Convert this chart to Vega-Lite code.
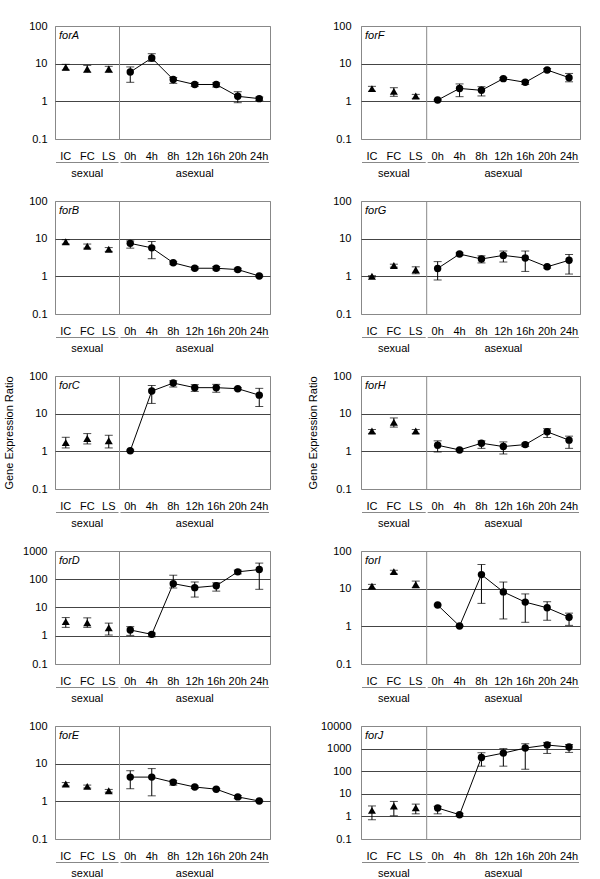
{"$schema":"https://vega.github.io/schema/vega-lite/v6.json",
"padding":{"left":3,"top":19,"right":0,"bottom":0},
"background":"white",
"datasets":{
"g":[{"grp":"sexual","from":"IC","to":"LS","mid":"FC"},{"grp":"asexual","from":"0h","to":"24h","mid":"12h"}],
"d":[
{"gene":"forA","c":"IC","p":"s","v":8.0,"lo":6.8,"hi":9.6},
{"gene":"forA","c":"FC","p":"s","v":7.2,"lo":5.9,"hi":9.0},
{"gene":"forA","c":"LS","p":"s","v":7.2,"lo":5.9,"hi":8.5},
{"gene":"forA","c":"0h","p":"a","v":6.0,"lo":3.2,"hi":8.2},
{"gene":"forA","c":"4h","p":"a","v":14.1,"lo":11.5,"hi":18.4},
{"gene":"forA","c":"8h","p":"a","v":3.8,"lo":3.0,"hi":4.3},
{"gene":"forA","c":"12h","p":"a","v":2.8,"lo":2.5,"hi":3.1},
{"gene":"forA","c":"16h","p":"a","v":2.8,"lo":2.4,"hi":3.1},
{"gene":"forA","c":"20h","p":"a","v":1.36,"lo":0.92,"hi":1.8},
{"gene":"forA","c":"24h","p":"a","v":1.18,"lo":1.06,"hi":1.3},
{"gene":"forB","c":"IC","p":"s","v":8.3,"lo":7.2,"hi":9.4},
{"gene":"forB","c":"FC","p":"s","v":6.3,"lo":5.6,"hi":7.2},
{"gene":"forB","c":"LS","p":"s","v":5.25,"lo":4.6,"hi":5.8},
{"gene":"forB","c":"0h","p":"a","v":7.5,"lo":5.6,"hi":8.7},
{"gene":"forB","c":"4h","p":"a","v":5.7,"lo":2.94,"hi":8.4},
{"gene":"forB","c":"8h","p":"a","v":2.29,"lo":2.1,"hi":2.44},
{"gene":"forB","c":"12h","p":"a","v":1.64,"lo":1.5,"hi":1.79},
{"gene":"forB","c":"16h","p":"a","v":1.64,"lo":1.48,"hi":1.82},
{"gene":"forB","c":"20h","p":"a","v":1.51,"lo":1.39,"hi":1.64},
{"gene":"forB","c":"24h","p":"a","v":1.02,"lo":0.97,"hi":1.07},
{"gene":"forC","c":"IC","p":"s","v":1.7,"lo":1.23,"hi":2.36},
{"gene":"forC","c":"FC","p":"s","v":2.18,"lo":1.57,"hi":2.96},
{"gene":"forC","c":"LS","p":"s","v":1.92,"lo":1.23,"hi":2.67},
{"gene":"forC","c":"0h","p":"a","v":1.04,"lo":1.0,"hi":1.08},
{"gene":"forC","c":"4h","p":"a","v":39.8,"lo":18.7,"hi":56},
{"gene":"forC","c":"8h","p":"a","v":65,"lo":51,"hi":75},
{"gene":"forC","c":"12h","p":"a","v":49,"lo":39,"hi":59},
{"gene":"forC","c":"16h","p":"a","v":49,"lo":37,"hi":60},
{"gene":"forC","c":"20h","p":"a","v":46,"lo":43,"hi":49},
{"gene":"forC","c":"24h","p":"a","v":31,"lo":15.5,"hi":47},
{"gene":"forD","c":"IC","p":"s","v":3.16,"lo":1.98,"hi":4.4},
{"gene":"forD","c":"FC","p":"s","v":2.9,"lo":1.98,"hi":4.3},
{"gene":"forD","c":"LS","p":"s","v":1.93,"lo":1.06,"hi":2.8},
{"gene":"forD","c":"0h","p":"a","v":1.6,"lo":1.03,"hi":2.1},
{"gene":"forD","c":"4h","p":"a","v":1.12,"lo":0.92,"hi":1.25},
{"gene":"forD","c":"8h","p":"a","v":70,"lo":49,"hi":139},
{"gene":"forD","c":"12h","p":"a","v":50.5,"lo":23.4,"hi":80},
{"gene":"forD","c":"16h","p":"a","v":59,"lo":38,"hi":75},
{"gene":"forD","c":"20h","p":"a","v":183,"lo":155,"hi":210},
{"gene":"forD","c":"24h","p":"a","v":220,"lo":44,"hi":373},
{"gene":"forE","c":"IC","p":"s","v":2.9,"lo":2.55,"hi":3.15},
{"gene":"forE","c":"FC","p":"s","v":2.5,"lo":2.25,"hi":2.7},
{"gene":"forE","c":"LS","p":"s","v":1.9,"lo":1.75,"hi":2.07},
{"gene":"forE","c":"0h","p":"a","v":4.4,"lo":2.16,"hi":6.5},
{"gene":"forE","c":"4h","p":"a","v":4.4,"lo":1.4,"hi":7.4},
{"gene":"forE","c":"8h","p":"a","v":3.2,"lo":2.7,"hi":3.6},
{"gene":"forE","c":"12h","p":"a","v":2.4,"lo":2.2,"hi":2.55},
{"gene":"forE","c":"16h","p":"a","v":2.1,"lo":2.0,"hi":2.2},
{"gene":"forE","c":"20h","p":"a","v":1.31,"lo":1.18,"hi":1.43},
{"gene":"forE","c":"24h","p":"a","v":1.02,"lo":0.98,"hi":1.06},
{"gene":"forF","c":"IC","p":"s","v":2.17,"lo":1.85,"hi":2.5},
{"gene":"forF","c":"FC","p":"s","v":1.84,"lo":1.36,"hi":2.3},
{"gene":"forF","c":"LS","p":"s","v":1.39,"lo":1.2,"hi":1.53},
{"gene":"forF","c":"0h","p":"a","v":1.08,"lo":1.04,"hi":1.12},
{"gene":"forF","c":"4h","p":"a","v":2.2,"lo":1.33,"hi":2.9},
{"gene":"forF","c":"8h","p":"a","v":1.96,"lo":1.39,"hi":2.45},
{"gene":"forF","c":"12h","p":"a","v":4.0,"lo":3.8,"hi":4.3},
{"gene":"forF","c":"16h","p":"a","v":3.2,"lo":2.8,"hi":3.5},
{"gene":"forF","c":"20h","p":"a","v":6.8,"lo":6.2,"hi":7.4},
{"gene":"forF","c":"24h","p":"a","v":4.25,"lo":3.3,"hi":5.5},
{"gene":"forG","c":"IC","p":"s","v":1.0,"lo":0.96,"hi":1.04},
{"gene":"forG","c":"FC","p":"s","v":1.94,"lo":1.75,"hi":2.1},
{"gene":"forG","c":"LS","p":"s","v":1.49,"lo":1.17,"hi":1.79},
{"gene":"forG","c":"0h","p":"a","v":1.62,"lo":0.8,"hi":2.46},
{"gene":"forG","c":"4h","p":"a","v":3.9,"lo":3.6,"hi":4.2},
{"gene":"forG","c":"8h","p":"a","v":2.89,"lo":2.27,"hi":3.5},
{"gene":"forG","c":"12h","p":"a","v":3.6,"lo":2.4,"hi":4.7},
{"gene":"forG","c":"16h","p":"a","v":3.07,"lo":1.35,"hi":4.7},
{"gene":"forG","c":"20h","p":"a","v":1.79,"lo":1.65,"hi":1.9},
{"gene":"forG","c":"24h","p":"a","v":2.67,"lo":1.15,"hi":3.8},
{"gene":"forH","c":"IC","p":"s","v":3.45,"lo":3.0,"hi":3.8},
{"gene":"forH","c":"FC","p":"s","v":5.9,"lo":4.4,"hi":7.7},
{"gene":"forH","c":"LS","p":"s","v":3.45,"lo":3.0,"hi":3.8},
{"gene":"forH","c":"0h","p":"a","v":1.45,"lo":0.96,"hi":1.9},
{"gene":"forH","c":"4h","p":"a","v":1.09,"lo":1.04,"hi":1.14},
{"gene":"forH","c":"8h","p":"a","v":1.64,"lo":1.2,"hi":1.9},
{"gene":"forH","c":"12h","p":"a","v":1.34,"lo":0.85,"hi":1.78},
{"gene":"forH","c":"16h","p":"a","v":1.51,"lo":1.34,"hi":1.64},
{"gene":"forH","c":"20h","p":"a","v":3.3,"lo":2.33,"hi":4.0},
{"gene":"forH","c":"24h","p":"a","v":1.98,"lo":1.2,"hi":2.53},
{"gene":"forI","c":"IC","p":"s","v":11.7,"lo":9.8,"hi":13},
{"gene":"forI","c":"FC","p":"s","v":28.3,"lo":24.6,"hi":30.8},
{"gene":"forI","c":"LS","p":"s","v":12.9,"lo":10.5,"hi":15.9},
{"gene":"forI","c":"0h","p":"a","v":3.67,"lo":3.5,"hi":3.85},
{"gene":"forI","c":"4h","p":"a","v":1.02,"lo":0.98,"hi":1.06},
{"gene":"forI","c":"8h","p":"a","v":23.6,"lo":4.07,"hi":43.8},
{"gene":"forI","c":"12h","p":"a","v":8.2,"lo":1.57,"hi":15},
{"gene":"forI","c":"16h","p":"a","v":4.4,"lo":1.28,"hi":7.25},
{"gene":"forI","c":"20h","p":"a","v":3.1,"lo":1.45,"hi":4.5},
{"gene":"forI","c":"24h","p":"a","v":1.75,"lo":1.06,"hi":2.24},
{"gene":"forJ","c":"IC","p":"s","v":1.85,"lo":0.71,"hi":2.9},
{"gene":"forJ","c":"FC","p":"s","v":2.88,"lo":1.07,"hi":4.6},
{"gene":"forJ","c":"LS","p":"s","v":2.43,"lo":1.3,"hi":3.5},
{"gene":"forJ","c":"0h","p":"a","v":2.35,"lo":1.3,"hi":2.78},
{"gene":"forJ","c":"4h","p":"a","v":1.19,"lo":1.07,"hi":1.36},
{"gene":"forJ","c":"8h","p":"a","v":406,"lo":167,"hi":656},
{"gene":"forJ","c":"12h","p":"a","v":631,"lo":167,"hi":1000},
{"gene":"forJ","c":"16h","p":"a","v":1060,"lo":122,"hi":1640},
{"gene":"forJ","c":"20h","p":"a","v":1440,"lo":610,"hi":1870},
{"gene":"forJ","c":"24h","p":"a","v":1170,"lo":680,"hi":1520}
]},
"columns":2,
"spacing":{"row":13.5,"column":91},
"bounds":"flush",
"align":"each",
"concat":[
{"width":215,"height":113,"data":{"name":"d"},"transform":[{"filter":"datum.gene == 'forA'"}],
"encoding":{"x":{"field":"c","type":"nominal","sort":["IC","FC","LS","0h","4h","8h","12h","16h","20h","24h"],"scale":{"type":"band","domain":["IC","FC","LS","0h","4h","8h","12h","16h","20h","24h"],"paddingInner":0,"paddingOuter":0},"axis":{"title":null,"ticks":false,"domain":false,"labelAngle":0,"labelPadding":11,"grid":false}},
"y":{"field":"v","type":"quantitative","title":null,"scale":{"type":"log","domain":[0.1,100]},"axis":{"values":[0.1,1,10,100],"format":"~g","ticks":false,"domain":false,"labelPadding":8,"grid":true,"gridColor":{"condition":{"test":"datum.value <= 0.1 || datum.value >= 100","value":"#888888"},"value":"#444444"},"titlePadding":14}}},
"layer":[
{"transform":[{"filter":"datum.c == 'IC'"}],"mark":{"type":"rule","color":"#888888"},"encoding":{"x":{"datum":"0h","type":"nominal","bandPosition":0,"title":null},"y":{"datum":0.1,"type":"quantitative","title":null},"y2":{"datum":100}}},
{"transform":[{"filter":"datum.c == 'IC'"}],"mark":{"type":"text","align":"left","baseline":"middle","dx":4,"dy":10,"fontStyle":"italic"},"encoding":{"x":{"datum":"IC","type":"nominal","bandPosition":0,"title":null},"y":{"datum":100,"type":"quantitative","title":null},"text":{"field":"gene"}}},
{"mark":{"type":"rule","color":"#000000"},"encoding":{"y":{"field":"lo","type":"quantitative","title":null},"y2":{"field":"hi"}}},
{"mark":{"type":"tick","color":"#000000","size":8,"thickness":1},"encoding":{"y":{"field":"lo","type":"quantitative","title":null}}},
{"mark":{"type":"tick","color":"#000000","size":8,"thickness":1},"encoding":{"y":{"field":"hi","type":"quantitative","title":null}}},
{"transform":[{"filter":"datum.p == 'a'"}],"mark":{"type":"line","color":"#000000","strokeWidth":1}},
{"transform":[{"filter":"datum.p == 's'"}],"mark":{"type":"point","shape":"triangle-up","filled":true,"color":"#000000","opacity":1,"size":64}},
{"transform":[{"filter":"datum.p == 'a'"}],"mark":{"type":"point","shape":"circle","filled":true,"color":"#000000","opacity":1,"size":55}}
]},
{"width":219,"height":113,"data":{"name":"d"},"transform":[{"filter":"datum.gene == 'forF'"}],
"encoding":{"x":{"field":"c","type":"nominal","sort":["IC","FC","LS","0h","4h","8h","12h","16h","20h","24h"],"scale":{"type":"band","domain":["IC","FC","LS","0h","4h","8h","12h","16h","20h","24h"],"paddingInner":0,"paddingOuter":0},"axis":{"title":null,"ticks":false,"domain":false,"labelAngle":0,"labelPadding":11,"grid":false}},
"y":{"field":"v","type":"quantitative","title":null,"scale":{"type":"log","domain":[0.1,100]},"axis":{"values":[0.1,1,10,100],"format":"~g","ticks":false,"domain":false,"labelPadding":10,"grid":true,"gridColor":{"condition":{"test":"datum.value <= 0.1 || datum.value >= 100","value":"#888888"},"value":"#444444"},"titlePadding":14}}},
"layer":[
{"transform":[{"filter":"datum.c == 'IC'"}],"mark":{"type":"rule","color":"#888888"},"encoding":{"x":{"datum":"0h","type":"nominal","bandPosition":0,"title":null},"y":{"datum":0.1,"type":"quantitative","title":null},"y2":{"datum":100}}},
{"transform":[{"filter":"datum.c == 'IC'"}],"mark":{"type":"text","align":"left","baseline":"middle","dx":4,"dy":10,"fontStyle":"italic"},"encoding":{"x":{"datum":"IC","type":"nominal","bandPosition":0,"title":null},"y":{"datum":100,"type":"quantitative","title":null},"text":{"field":"gene"}}},
{"mark":{"type":"rule","color":"#000000"},"encoding":{"y":{"field":"lo","type":"quantitative","title":null},"y2":{"field":"hi"}}},
{"mark":{"type":"tick","color":"#000000","size":8,"thickness":1},"encoding":{"y":{"field":"lo","type":"quantitative","title":null}}},
{"mark":{"type":"tick","color":"#000000","size":8,"thickness":1},"encoding":{"y":{"field":"hi","type":"quantitative","title":null}}},
{"transform":[{"filter":"datum.p == 'a'"}],"mark":{"type":"line","color":"#000000","strokeWidth":1}},
{"transform":[{"filter":"datum.p == 's'"}],"mark":{"type":"point","shape":"triangle-up","filled":true,"color":"#000000","opacity":1,"size":64}},
{"transform":[{"filter":"datum.p == 'a'"}],"mark":{"type":"point","shape":"circle","filled":true,"color":"#000000","opacity":1,"size":55}}
]},
{"width":215,"height":34.5,"data":{"name":"g"},"view":{"stroke":null},"layer":[
{"mark":{"type":"rule","color":"#888888","xOffset":1,"x2Offset":-1},"encoding":{"x":{"field":"from","type":"nominal","bandPosition":0,"scale":{"type":"band","domain":["IC","FC","LS","0h","4h","8h","12h","16h","20h","24h"],"paddingInner":0,"paddingOuter":0},"axis":null},"x2":{"field":"to","bandPosition":1},"y":{"datum":"line","type":"nominal","scale":{"type":"point","domain":["line","label"],"padding":1,"align":0.435},"axis":null}}},
{"mark":{"type":"text","baseline":"middle"},"encoding":{"x":{"field":"mid","type":"nominal","axis":null},"y":{"datum":"label","type":"nominal","axis":null},"text":{"field":"grp"}}}]},
{"width":219,"height":34.5,"data":{"name":"g"},"view":{"stroke":null},"layer":[
{"mark":{"type":"rule","color":"#888888","xOffset":1,"x2Offset":-1},"encoding":{"x":{"field":"from","type":"nominal","bandPosition":0,"scale":{"type":"band","domain":["IC","FC","LS","0h","4h","8h","12h","16h","20h","24h"],"paddingInner":0,"paddingOuter":0},"axis":null},"x2":{"field":"to","bandPosition":1},"y":{"datum":"line","type":"nominal","scale":{"type":"point","domain":["line","label"],"padding":1,"align":0.435},"axis":null}}},
{"mark":{"type":"text","baseline":"middle"},"encoding":{"x":{"field":"mid","type":"nominal","axis":null},"y":{"datum":"label","type":"nominal","axis":null},"text":{"field":"grp"}}}]},
{"width":215,"height":113,"data":{"name":"d"},"transform":[{"filter":"datum.gene == 'forB'"}],
"encoding":{"x":{"field":"c","type":"nominal","sort":["IC","FC","LS","0h","4h","8h","12h","16h","20h","24h"],"scale":{"type":"band","domain":["IC","FC","LS","0h","4h","8h","12h","16h","20h","24h"],"paddingInner":0,"paddingOuter":0},"axis":{"title":null,"ticks":false,"domain":false,"labelAngle":0,"labelPadding":11,"grid":false}},
"y":{"field":"v","type":"quantitative","title":null,"scale":{"type":"log","domain":[0.1,100]},"axis":{"values":[0.1,1,10,100],"format":"~g","ticks":false,"domain":false,"labelPadding":8,"grid":true,"gridColor":{"condition":{"test":"datum.value <= 0.1 || datum.value >= 100","value":"#888888"},"value":"#444444"},"titlePadding":14}}},
"layer":[
{"transform":[{"filter":"datum.c == 'IC'"}],"mark":{"type":"rule","color":"#888888"},"encoding":{"x":{"datum":"0h","type":"nominal","bandPosition":0,"title":null},"y":{"datum":0.1,"type":"quantitative","title":null},"y2":{"datum":100}}},
{"transform":[{"filter":"datum.c == 'IC'"}],"mark":{"type":"text","align":"left","baseline":"middle","dx":4,"dy":10,"fontStyle":"italic"},"encoding":{"x":{"datum":"IC","type":"nominal","bandPosition":0,"title":null},"y":{"datum":100,"type":"quantitative","title":null},"text":{"field":"gene"}}},
{"mark":{"type":"rule","color":"#000000"},"encoding":{"y":{"field":"lo","type":"quantitative","title":null},"y2":{"field":"hi"}}},
{"mark":{"type":"tick","color":"#000000","size":8,"thickness":1},"encoding":{"y":{"field":"lo","type":"quantitative","title":null}}},
{"mark":{"type":"tick","color":"#000000","size":8,"thickness":1},"encoding":{"y":{"field":"hi","type":"quantitative","title":null}}},
{"transform":[{"filter":"datum.p == 'a'"}],"mark":{"type":"line","color":"#000000","strokeWidth":1}},
{"transform":[{"filter":"datum.p == 's'"}],"mark":{"type":"point","shape":"triangle-up","filled":true,"color":"#000000","opacity":1,"size":64}},
{"transform":[{"filter":"datum.p == 'a'"}],"mark":{"type":"point","shape":"circle","filled":true,"color":"#000000","opacity":1,"size":55}}
]},
{"width":219,"height":113,"data":{"name":"d"},"transform":[{"filter":"datum.gene == 'forG'"}],
"encoding":{"x":{"field":"c","type":"nominal","sort":["IC","FC","LS","0h","4h","8h","12h","16h","20h","24h"],"scale":{"type":"band","domain":["IC","FC","LS","0h","4h","8h","12h","16h","20h","24h"],"paddingInner":0,"paddingOuter":0},"axis":{"title":null,"ticks":false,"domain":false,"labelAngle":0,"labelPadding":11,"grid":false}},
"y":{"field":"v","type":"quantitative","title":null,"scale":{"type":"log","domain":[0.1,100]},"axis":{"values":[0.1,1,10,100],"format":"~g","ticks":false,"domain":false,"labelPadding":10,"grid":true,"gridColor":{"condition":{"test":"datum.value <= 0.1 || datum.value >= 100","value":"#888888"},"value":"#444444"},"titlePadding":14}}},
"layer":[
{"transform":[{"filter":"datum.c == 'IC'"}],"mark":{"type":"rule","color":"#888888"},"encoding":{"x":{"datum":"0h","type":"nominal","bandPosition":0,"title":null},"y":{"datum":0.1,"type":"quantitative","title":null},"y2":{"datum":100}}},
{"transform":[{"filter":"datum.c == 'IC'"}],"mark":{"type":"text","align":"left","baseline":"middle","dx":4,"dy":10,"fontStyle":"italic"},"encoding":{"x":{"datum":"IC","type":"nominal","bandPosition":0,"title":null},"y":{"datum":100,"type":"quantitative","title":null},"text":{"field":"gene"}}},
{"mark":{"type":"rule","color":"#000000"},"encoding":{"y":{"field":"lo","type":"quantitative","title":null},"y2":{"field":"hi"}}},
{"mark":{"type":"tick","color":"#000000","size":8,"thickness":1},"encoding":{"y":{"field":"lo","type":"quantitative","title":null}}},
{"mark":{"type":"tick","color":"#000000","size":8,"thickness":1},"encoding":{"y":{"field":"hi","type":"quantitative","title":null}}},
{"transform":[{"filter":"datum.p == 'a'"}],"mark":{"type":"line","color":"#000000","strokeWidth":1}},
{"transform":[{"filter":"datum.p == 's'"}],"mark":{"type":"point","shape":"triangle-up","filled":true,"color":"#000000","opacity":1,"size":64}},
{"transform":[{"filter":"datum.p == 'a'"}],"mark":{"type":"point","shape":"circle","filled":true,"color":"#000000","opacity":1,"size":55}}
]},
{"width":215,"height":34.5,"data":{"name":"g"},"view":{"stroke":null},"layer":[
{"mark":{"type":"rule","color":"#888888","xOffset":1,"x2Offset":-1},"encoding":{"x":{"field":"from","type":"nominal","bandPosition":0,"scale":{"type":"band","domain":["IC","FC","LS","0h","4h","8h","12h","16h","20h","24h"],"paddingInner":0,"paddingOuter":0},"axis":null},"x2":{"field":"to","bandPosition":1},"y":{"datum":"line","type":"nominal","scale":{"type":"point","domain":["line","label"],"padding":1,"align":0.435},"axis":null}}},
{"mark":{"type":"text","baseline":"middle"},"encoding":{"x":{"field":"mid","type":"nominal","axis":null},"y":{"datum":"label","type":"nominal","axis":null},"text":{"field":"grp"}}}]},
{"width":219,"height":34.5,"data":{"name":"g"},"view":{"stroke":null},"layer":[
{"mark":{"type":"rule","color":"#888888","xOffset":1,"x2Offset":-1},"encoding":{"x":{"field":"from","type":"nominal","bandPosition":0,"scale":{"type":"band","domain":["IC","FC","LS","0h","4h","8h","12h","16h","20h","24h"],"paddingInner":0,"paddingOuter":0},"axis":null},"x2":{"field":"to","bandPosition":1},"y":{"datum":"line","type":"nominal","scale":{"type":"point","domain":["line","label"],"padding":1,"align":0.435},"axis":null}}},
{"mark":{"type":"text","baseline":"middle"},"encoding":{"x":{"field":"mid","type":"nominal","axis":null},"y":{"datum":"label","type":"nominal","axis":null},"text":{"field":"grp"}}}]},
{"width":215,"height":113,"data":{"name":"d"},"transform":[{"filter":"datum.gene == 'forC'"}],
"encoding":{"x":{"field":"c","type":"nominal","sort":["IC","FC","LS","0h","4h","8h","12h","16h","20h","24h"],"scale":{"type":"band","domain":["IC","FC","LS","0h","4h","8h","12h","16h","20h","24h"],"paddingInner":0,"paddingOuter":0},"axis":{"title":null,"ticks":false,"domain":false,"labelAngle":0,"labelPadding":11,"grid":false}},
"y":{"field":"v","type":"quantitative","title":"Gene Expression Ratio","scale":{"type":"log","domain":[0.1,100]},"axis":{"values":[0.1,1,10,100],"format":"~g","ticks":false,"domain":false,"labelPadding":8,"grid":true,"gridColor":{"condition":{"test":"datum.value <= 0.1 || datum.value >= 100","value":"#888888"},"value":"#444444"},"titlePadding":14}}},
"layer":[
{"transform":[{"filter":"datum.c == 'IC'"}],"mark":{"type":"rule","color":"#888888"},"encoding":{"x":{"datum":"0h","type":"nominal","bandPosition":0,"title":null},"y":{"datum":0.1,"type":"quantitative","title":"Gene Expression Ratio"},"y2":{"datum":100}}},
{"transform":[{"filter":"datum.c == 'IC'"}],"mark":{"type":"text","align":"left","baseline":"middle","dx":4,"dy":10,"fontStyle":"italic"},"encoding":{"x":{"datum":"IC","type":"nominal","bandPosition":0,"title":null},"y":{"datum":100,"type":"quantitative","title":"Gene Expression Ratio"},"text":{"field":"gene"}}},
{"mark":{"type":"rule","color":"#000000"},"encoding":{"y":{"field":"lo","type":"quantitative","title":"Gene Expression Ratio"},"y2":{"field":"hi"}}},
{"mark":{"type":"tick","color":"#000000","size":8,"thickness":1},"encoding":{"y":{"field":"lo","type":"quantitative","title":"Gene Expression Ratio"}}},
{"mark":{"type":"tick","color":"#000000","size":8,"thickness":1},"encoding":{"y":{"field":"hi","type":"quantitative","title":"Gene Expression Ratio"}}},
{"transform":[{"filter":"datum.p == 'a'"}],"mark":{"type":"line","color":"#000000","strokeWidth":1}},
{"transform":[{"filter":"datum.p == 's'"}],"mark":{"type":"point","shape":"triangle-up","filled":true,"color":"#000000","opacity":1,"size":64}},
{"transform":[{"filter":"datum.p == 'a'"}],"mark":{"type":"point","shape":"circle","filled":true,"color":"#000000","opacity":1,"size":55}}
]},
{"width":219,"height":113,"data":{"name":"d"},"transform":[{"filter":"datum.gene == 'forH'"}],
"encoding":{"x":{"field":"c","type":"nominal","sort":["IC","FC","LS","0h","4h","8h","12h","16h","20h","24h"],"scale":{"type":"band","domain":["IC","FC","LS","0h","4h","8h","12h","16h","20h","24h"],"paddingInner":0,"paddingOuter":0},"axis":{"title":null,"ticks":false,"domain":false,"labelAngle":0,"labelPadding":11,"grid":false}},
"y":{"field":"v","type":"quantitative","title":"Gene Expression Ratio","scale":{"type":"log","domain":[0.1,100]},"axis":{"values":[0.1,1,10,100],"format":"~g","ticks":false,"domain":false,"labelPadding":10,"grid":true,"gridColor":{"condition":{"test":"datum.value <= 0.1 || datum.value >= 100","value":"#888888"},"value":"#444444"},"titlePadding":14}}},
"layer":[
{"transform":[{"filter":"datum.c == 'IC'"}],"mark":{"type":"rule","color":"#888888"},"encoding":{"x":{"datum":"0h","type":"nominal","bandPosition":0,"title":null},"y":{"datum":0.1,"type":"quantitative","title":"Gene Expression Ratio"},"y2":{"datum":100}}},
{"transform":[{"filter":"datum.c == 'IC'"}],"mark":{"type":"text","align":"left","baseline":"middle","dx":4,"dy":10,"fontStyle":"italic"},"encoding":{"x":{"datum":"IC","type":"nominal","bandPosition":0,"title":null},"y":{"datum":100,"type":"quantitative","title":"Gene Expression Ratio"},"text":{"field":"gene"}}},
{"mark":{"type":"rule","color":"#000000"},"encoding":{"y":{"field":"lo","type":"quantitative","title":"Gene Expression Ratio"},"y2":{"field":"hi"}}},
{"mark":{"type":"tick","color":"#000000","size":8,"thickness":1},"encoding":{"y":{"field":"lo","type":"quantitative","title":"Gene Expression Ratio"}}},
{"mark":{"type":"tick","color":"#000000","size":8,"thickness":1},"encoding":{"y":{"field":"hi","type":"quantitative","title":"Gene Expression Ratio"}}},
{"transform":[{"filter":"datum.p == 'a'"}],"mark":{"type":"line","color":"#000000","strokeWidth":1}},
{"transform":[{"filter":"datum.p == 's'"}],"mark":{"type":"point","shape":"triangle-up","filled":true,"color":"#000000","opacity":1,"size":64}},
{"transform":[{"filter":"datum.p == 'a'"}],"mark":{"type":"point","shape":"circle","filled":true,"color":"#000000","opacity":1,"size":55}}
]},
{"width":215,"height":34.5,"data":{"name":"g"},"view":{"stroke":null},"layer":[
{"mark":{"type":"rule","color":"#888888","xOffset":1,"x2Offset":-1},"encoding":{"x":{"field":"from","type":"nominal","bandPosition":0,"scale":{"type":"band","domain":["IC","FC","LS","0h","4h","8h","12h","16h","20h","24h"],"paddingInner":0,"paddingOuter":0},"axis":null},"x2":{"field":"to","bandPosition":1},"y":{"datum":"line","type":"nominal","scale":{"type":"point","domain":["line","label"],"padding":1,"align":0.435},"axis":null}}},
{"mark":{"type":"text","baseline":"middle"},"encoding":{"x":{"field":"mid","type":"nominal","axis":null},"y":{"datum":"label","type":"nominal","axis":null},"text":{"field":"grp"}}}]},
{"width":219,"height":34.5,"data":{"name":"g"},"view":{"stroke":null},"layer":[
{"mark":{"type":"rule","color":"#888888","xOffset":1,"x2Offset":-1},"encoding":{"x":{"field":"from","type":"nominal","bandPosition":0,"scale":{"type":"band","domain":["IC","FC","LS","0h","4h","8h","12h","16h","20h","24h"],"paddingInner":0,"paddingOuter":0},"axis":null},"x2":{"field":"to","bandPosition":1},"y":{"datum":"line","type":"nominal","scale":{"type":"point","domain":["line","label"],"padding":1,"align":0.435},"axis":null}}},
{"mark":{"type":"text","baseline":"middle"},"encoding":{"x":{"field":"mid","type":"nominal","axis":null},"y":{"datum":"label","type":"nominal","axis":null},"text":{"field":"grp"}}}]},
{"width":215,"height":113,"data":{"name":"d"},"transform":[{"filter":"datum.gene == 'forD'"}],
"encoding":{"x":{"field":"c","type":"nominal","sort":["IC","FC","LS","0h","4h","8h","12h","16h","20h","24h"],"scale":{"type":"band","domain":["IC","FC","LS","0h","4h","8h","12h","16h","20h","24h"],"paddingInner":0,"paddingOuter":0},"axis":{"title":null,"ticks":false,"domain":false,"labelAngle":0,"labelPadding":11,"grid":false}},
"y":{"field":"v","type":"quantitative","title":null,"scale":{"type":"log","domain":[0.1,1000]},"axis":{"values":[0.1,1,10,100,1000],"format":"~g","ticks":false,"domain":false,"labelPadding":8,"grid":true,"gridColor":{"condition":{"test":"datum.value <= 0.1 || datum.value >= 1000","value":"#888888"},"value":"#444444"},"titlePadding":14}}},
"layer":[
{"transform":[{"filter":"datum.c == 'IC'"}],"mark":{"type":"rule","color":"#888888"},"encoding":{"x":{"datum":"0h","type":"nominal","bandPosition":0,"title":null},"y":{"datum":0.1,"type":"quantitative","title":null},"y2":{"datum":1000}}},
{"transform":[{"filter":"datum.c == 'IC'"}],"mark":{"type":"text","align":"left","baseline":"middle","dx":4,"dy":10,"fontStyle":"italic"},"encoding":{"x":{"datum":"IC","type":"nominal","bandPosition":0,"title":null},"y":{"datum":1000,"type":"quantitative","title":null},"text":{"field":"gene"}}},
{"mark":{"type":"rule","color":"#000000"},"encoding":{"y":{"field":"lo","type":"quantitative","title":null},"y2":{"field":"hi"}}},
{"mark":{"type":"tick","color":"#000000","size":8,"thickness":1},"encoding":{"y":{"field":"lo","type":"quantitative","title":null}}},
{"mark":{"type":"tick","color":"#000000","size":8,"thickness":1},"encoding":{"y":{"field":"hi","type":"quantitative","title":null}}},
{"transform":[{"filter":"datum.p == 'a'"}],"mark":{"type":"line","color":"#000000","strokeWidth":1}},
{"transform":[{"filter":"datum.p == 's'"}],"mark":{"type":"point","shape":"triangle-up","filled":true,"color":"#000000","opacity":1,"size":64}},
{"transform":[{"filter":"datum.p == 'a'"}],"mark":{"type":"point","shape":"circle","filled":true,"color":"#000000","opacity":1,"size":55}}
]},
{"width":219,"height":113,"data":{"name":"d"},"transform":[{"filter":"datum.gene == 'forI'"}],
"encoding":{"x":{"field":"c","type":"nominal","sort":["IC","FC","LS","0h","4h","8h","12h","16h","20h","24h"],"scale":{"type":"band","domain":["IC","FC","LS","0h","4h","8h","12h","16h","20h","24h"],"paddingInner":0,"paddingOuter":0},"axis":{"title":null,"ticks":false,"domain":false,"labelAngle":0,"labelPadding":11,"grid":false}},
"y":{"field":"v","type":"quantitative","title":null,"scale":{"type":"log","domain":[0.1,100]},"axis":{"values":[0.1,1,10,100],"format":"~g","ticks":false,"domain":false,"labelPadding":10,"grid":true,"gridColor":{"condition":{"test":"datum.value <= 0.1 || datum.value >= 100","value":"#888888"},"value":"#444444"},"titlePadding":14}}},
"layer":[
{"transform":[{"filter":"datum.c == 'IC'"}],"mark":{"type":"rule","color":"#888888"},"encoding":{"x":{"datum":"0h","type":"nominal","bandPosition":0,"title":null},"y":{"datum":0.1,"type":"quantitative","title":null},"y2":{"datum":100}}},
{"transform":[{"filter":"datum.c == 'IC'"}],"mark":{"type":"text","align":"left","baseline":"middle","dx":4,"dy":10,"fontStyle":"italic"},"encoding":{"x":{"datum":"IC","type":"nominal","bandPosition":0,"title":null},"y":{"datum":100,"type":"quantitative","title":null},"text":{"field":"gene"}}},
{"mark":{"type":"rule","color":"#000000"},"encoding":{"y":{"field":"lo","type":"quantitative","title":null},"y2":{"field":"hi"}}},
{"mark":{"type":"tick","color":"#000000","size":8,"thickness":1},"encoding":{"y":{"field":"lo","type":"quantitative","title":null}}},
{"mark":{"type":"tick","color":"#000000","size":8,"thickness":1},"encoding":{"y":{"field":"hi","type":"quantitative","title":null}}},
{"transform":[{"filter":"datum.p == 'a'"}],"mark":{"type":"line","color":"#000000","strokeWidth":1}},
{"transform":[{"filter":"datum.p == 's'"}],"mark":{"type":"point","shape":"triangle-up","filled":true,"color":"#000000","opacity":1,"size":64}},
{"transform":[{"filter":"datum.p == 'a'"}],"mark":{"type":"point","shape":"circle","filled":true,"color":"#000000","opacity":1,"size":55}}
]},
{"width":215,"height":34.5,"data":{"name":"g"},"view":{"stroke":null},"layer":[
{"mark":{"type":"rule","color":"#888888","xOffset":1,"x2Offset":-1},"encoding":{"x":{"field":"from","type":"nominal","bandPosition":0,"scale":{"type":"band","domain":["IC","FC","LS","0h","4h","8h","12h","16h","20h","24h"],"paddingInner":0,"paddingOuter":0},"axis":null},"x2":{"field":"to","bandPosition":1},"y":{"datum":"line","type":"nominal","scale":{"type":"point","domain":["line","label"],"padding":1,"align":0.435},"axis":null}}},
{"mark":{"type":"text","baseline":"middle"},"encoding":{"x":{"field":"mid","type":"nominal","axis":null},"y":{"datum":"label","type":"nominal","axis":null},"text":{"field":"grp"}}}]},
{"width":219,"height":34.5,"data":{"name":"g"},"view":{"stroke":null},"layer":[
{"mark":{"type":"rule","color":"#888888","xOffset":1,"x2Offset":-1},"encoding":{"x":{"field":"from","type":"nominal","bandPosition":0,"scale":{"type":"band","domain":["IC","FC","LS","0h","4h","8h","12h","16h","20h","24h"],"paddingInner":0,"paddingOuter":0},"axis":null},"x2":{"field":"to","bandPosition":1},"y":{"datum":"line","type":"nominal","scale":{"type":"point","domain":["line","label"],"padding":1,"align":0.435},"axis":null}}},
{"mark":{"type":"text","baseline":"middle"},"encoding":{"x":{"field":"mid","type":"nominal","axis":null},"y":{"datum":"label","type":"nominal","axis":null},"text":{"field":"grp"}}}]},
{"width":215,"height":113,"data":{"name":"d"},"transform":[{"filter":"datum.gene == 'forE'"}],
"encoding":{"x":{"field":"c","type":"nominal","sort":["IC","FC","LS","0h","4h","8h","12h","16h","20h","24h"],"scale":{"type":"band","domain":["IC","FC","LS","0h","4h","8h","12h","16h","20h","24h"],"paddingInner":0,"paddingOuter":0},"axis":{"title":null,"ticks":false,"domain":false,"labelAngle":0,"labelPadding":11,"grid":false}},
"y":{"field":"v","type":"quantitative","title":null,"scale":{"type":"log","domain":[0.1,100]},"axis":{"values":[0.1,1,10,100],"format":"~g","ticks":false,"domain":false,"labelPadding":8,"grid":true,"gridColor":{"condition":{"test":"datum.value <= 0.1 || datum.value >= 100","value":"#888888"},"value":"#444444"},"titlePadding":14}}},
"layer":[
{"transform":[{"filter":"datum.c == 'IC'"}],"mark":{"type":"rule","color":"#888888"},"encoding":{"x":{"datum":"0h","type":"nominal","bandPosition":0,"title":null},"y":{"datum":0.1,"type":"quantitative","title":null},"y2":{"datum":100}}},
{"transform":[{"filter":"datum.c == 'IC'"}],"mark":{"type":"text","align":"left","baseline":"middle","dx":4,"dy":10,"fontStyle":"italic"},"encoding":{"x":{"datum":"IC","type":"nominal","bandPosition":0,"title":null},"y":{"datum":100,"type":"quantitative","title":null},"text":{"field":"gene"}}},
{"mark":{"type":"rule","color":"#000000"},"encoding":{"y":{"field":"lo","type":"quantitative","title":null},"y2":{"field":"hi"}}},
{"mark":{"type":"tick","color":"#000000","size":8,"thickness":1},"encoding":{"y":{"field":"lo","type":"quantitative","title":null}}},
{"mark":{"type":"tick","color":"#000000","size":8,"thickness":1},"encoding":{"y":{"field":"hi","type":"quantitative","title":null}}},
{"transform":[{"filter":"datum.p == 'a'"}],"mark":{"type":"line","color":"#000000","strokeWidth":1}},
{"transform":[{"filter":"datum.p == 's'"}],"mark":{"type":"point","shape":"triangle-up","filled":true,"color":"#000000","opacity":1,"size":64}},
{"transform":[{"filter":"datum.p == 'a'"}],"mark":{"type":"point","shape":"circle","filled":true,"color":"#000000","opacity":1,"size":55}}
]},
{"width":219,"height":113,"data":{"name":"d"},"transform":[{"filter":"datum.gene == 'forJ'"}],
"encoding":{"x":{"field":"c","type":"nominal","sort":["IC","FC","LS","0h","4h","8h","12h","16h","20h","24h"],"scale":{"type":"band","domain":["IC","FC","LS","0h","4h","8h","12h","16h","20h","24h"],"paddingInner":0,"paddingOuter":0},"axis":{"title":null,"ticks":false,"domain":false,"labelAngle":0,"labelPadding":11,"grid":false}},
"y":{"field":"v","type":"quantitative","title":null,"scale":{"type":"log","domain":[0.1,10000]},"axis":{"values":[0.1,1,10,100,1000,10000],"format":"~g","ticks":false,"domain":false,"labelPadding":10,"grid":true,"gridColor":{"condition":{"test":"datum.value <= 0.1 || datum.value >= 10000","value":"#888888"},"value":"#444444"},"titlePadding":14}}},
"layer":[
{"transform":[{"filter":"datum.c == 'IC'"}],"mark":{"type":"rule","color":"#888888"},"encoding":{"x":{"datum":"0h","type":"nominal","bandPosition":0,"title":null},"y":{"datum":0.1,"type":"quantitative","title":null},"y2":{"datum":10000}}},
{"transform":[{"filter":"datum.c == 'IC'"}],"mark":{"type":"text","align":"left","baseline":"middle","dx":4,"dy":10,"fontStyle":"italic"},"encoding":{"x":{"datum":"IC","type":"nominal","bandPosition":0,"title":null},"y":{"datum":10000,"type":"quantitative","title":null},"text":{"field":"gene"}}},
{"mark":{"type":"rule","color":"#000000"},"encoding":{"y":{"field":"lo","type":"quantitative","title":null},"y2":{"field":"hi"}}},
{"mark":{"type":"tick","color":"#000000","size":8,"thickness":1},"encoding":{"y":{"field":"lo","type":"quantitative","title":null}}},
{"mark":{"type":"tick","color":"#000000","size":8,"thickness":1},"encoding":{"y":{"field":"hi","type":"quantitative","title":null}}},
{"transform":[{"filter":"datum.p == 'a'"}],"mark":{"type":"line","color":"#000000","strokeWidth":1}},
{"transform":[{"filter":"datum.p == 's'"}],"mark":{"type":"point","shape":"triangle-up","filled":true,"color":"#000000","opacity":1,"size":64}},
{"transform":[{"filter":"datum.p == 'a'"}],"mark":{"type":"point","shape":"circle","filled":true,"color":"#000000","opacity":1,"size":55}}
]},
{"width":215,"height":34.5,"data":{"name":"g"},"view":{"stroke":null},"layer":[
{"mark":{"type":"rule","color":"#888888","xOffset":1,"x2Offset":-1},"encoding":{"x":{"field":"from","type":"nominal","bandPosition":0,"scale":{"type":"band","domain":["IC","FC","LS","0h","4h","8h","12h","16h","20h","24h"],"paddingInner":0,"paddingOuter":0},"axis":null},"x2":{"field":"to","bandPosition":1},"y":{"datum":"line","type":"nominal","scale":{"type":"point","domain":["line","label"],"padding":1,"align":0.435},"axis":null}}},
{"mark":{"type":"text","baseline":"middle"},"encoding":{"x":{"field":"mid","type":"nominal","axis":null},"y":{"datum":"label","type":"nominal","axis":null},"text":{"field":"grp"}}}]},
{"width":219,"height":34.5,"data":{"name":"g"},"view":{"stroke":null},"layer":[
{"mark":{"type":"rule","color":"#888888","xOffset":1,"x2Offset":-1},"encoding":{"x":{"field":"from","type":"nominal","bandPosition":0,"scale":{"type":"band","domain":["IC","FC","LS","0h","4h","8h","12h","16h","20h","24h"],"paddingInner":0,"paddingOuter":0},"axis":null},"x2":{"field":"to","bandPosition":1},"y":{"datum":"line","type":"nominal","scale":{"type":"point","domain":["line","label"],"padding":1,"align":0.435},"axis":null}}},
{"mark":{"type":"text","baseline":"middle"},"encoding":{"x":{"field":"mid","type":"nominal","axis":null},"y":{"datum":"label","type":"nominal","axis":null},"text":{"field":"grp"}}}]}
],
"config":{
"font":"Liberation Sans",
"view":{"stroke":"#888888","strokeWidth":1},
"axis":{"labelFont":"Liberation Sans","labelFontSize":11,"labelColor":"#000000","titleFont":"Liberation Sans","titleFontSize":11,"titleFontWeight":"normal","titleColor":"#000000","gridWidth":1},
"text":{"font":"Liberation Sans","fontSize":11,"color":"#000000"}
}
}
